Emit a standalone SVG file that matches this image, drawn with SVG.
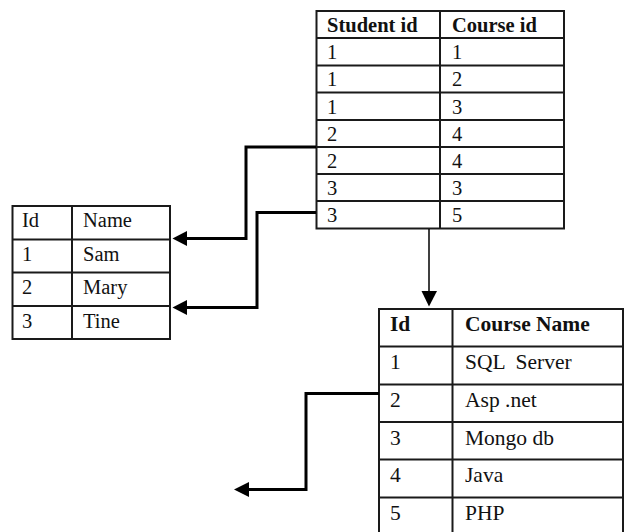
<svg xmlns="http://www.w3.org/2000/svg" width="626" height="532" viewBox="0 0 626 532">
<style>
  .grid { fill: #fff; stroke: #1a1a1a; stroke-width: 2; }
  .ln { stroke: #1a1a1a; stroke-width: 2; fill: none; }
  text { font-family: 'Liberation Serif', 'DejaVu Serif', serif; font-size: 20.5px; fill: #111; }
  .h { font-weight: bold; }
  .big { font-size: 21.5px; }
  .conn { stroke: #000; stroke-width: 3; fill: none; }
  .thin { stroke: #000; stroke-width: 1.5; fill: none; }
  .head { fill: #000; }
</style>
<rect width="626" height="532" fill="#fff"/>

<g id="student-course">
  <rect class="grid" x="316.5" y="11" width="247.5" height="217.5"/>
  <path class="ln" d="M440,11V228.5 M316.5,38H564 M316.5,65.5H564 M316.5,92.5H564 M316.5,120H564 M316.5,147H564 M316.5,174H564 M316.5,201H564"/>
  <text class="h" x="327" y="32">Student id</text>
  <text class="h" x="452" y="32">Course id</text>
  <text x="327" y="59">1</text><text x="452" y="59">1</text>
  <text x="327" y="86">1</text><text x="452" y="86">2</text>
  <text x="327" y="113.5">1</text><text x="452" y="113.5">3</text>
  <text x="327" y="140.5">2</text><text x="452" y="140.5">4</text>
  <text x="327" y="167.5">2</text><text x="452" y="167.5">4</text>
  <text x="327" y="194.5">3</text><text x="452" y="194.5">3</text>
  <text x="327" y="221.5">3</text><text x="452" y="221.5">5</text>
</g>

<g id="students">
  <rect class="grid" x="12.5" y="206" width="157.5" height="133"/>
  <path class="ln" d="M72,206V339 M12.5,239.5H170 M12.5,272.5H170 M12.5,306H170"/>
  <text x="22" y="227">Id</text><text x="83" y="227">Name</text>
  <text x="22" y="261">1</text><text x="83" y="261">Sam</text>
  <text x="22" y="294">2</text><text x="83" y="294">Mary</text>
  <text x="22" y="328">3</text><text x="83" y="328">Tine</text>
</g>

<g id="courses">
  <rect class="grid" x="379" y="309" width="244" height="240"/>
  <path class="ln" d="M452.5,309V549 M379,346.5H623 M379,384.5H623 M379,422H623 M379,459.5H623 M379,497.5H623"/>
  <text class="h big" x="390" y="331">Id</text><text class="h big" x="465" y="331">Course Name</text>
  <text class="big" x="390" y="369">1</text><text class="big" x="465" y="369" xml:space="preserve">SQL  Server</text>
  <text class="big" x="390" y="407">2</text><text class="big" x="465" y="407">Asp .net</text>
  <text class="big" x="390" y="444.5">3</text><text class="big" x="465" y="444.5">Mongo db</text>
  <text class="big" x="390" y="482">4</text><text class="big" x="465" y="482">Java</text>
  <text class="big" x="390" y="520">5</text><text class="big" x="465" y="520">PHP</text>
</g>

<g id="connectors">
  <polyline class="conn" points="316,147 246,147 246,238.5 186,238.5"/>
  <polygon class="head" points="187,231 187,246 172.5,238.5"/>
  <polyline class="conn" points="316,212.5 257,212.5 257,307.5 186,307.5"/>
  <polygon class="head" points="187,300 187,315 172.5,307.5"/>
  <line class="thin" x1="429" y1="229" x2="429" y2="292"/>
  <polygon class="head" points="421.5,291 437,291 429,306.5"/>
  <polyline class="conn" points="379,393.5 306,393.5 306,489.5 248,489.5"/>
  <polygon class="head" points="249,482 249,497 234,489.5"/>
</g>
</svg>
